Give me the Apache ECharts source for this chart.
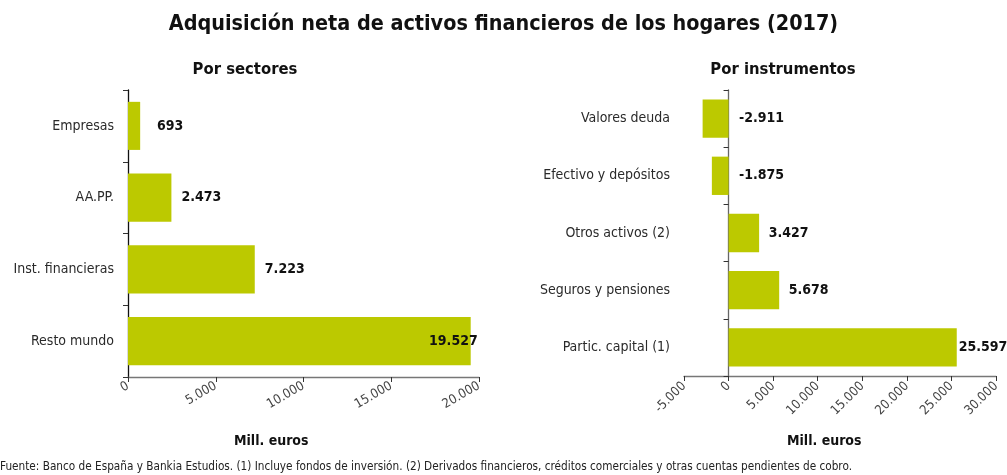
<!DOCTYPE html>
<html>
<head>
<meta charset="utf-8">
<script src="https://cdn.jsdelivr.net/npm/echarts@6/dist/echarts.min.js"></script>
<style>
html,body{margin:0;padding:0;background:#fff;}
#c{width:1007px;height:475px;}
</style>
</head>
<body>
<div id="c"></div>
<script>
const titleText = 'Adquisición neta de activos financieros de los hogares (2017)';
const leftSubtitle = 'Por sectores';
const rightSubtitle = 'Por instrumentos';
const axisName = 'Mill. euros';
const footerText = 'Fuente: Banco de España y Bankia Estudios. (1) Incluye fondos de inversión. (2) Derivados financieros, créditos comerciales y otras cuentas pendientes de cobro.';

const sectorCategories = ['Empresas', 'AA.PP.', 'Inst. financieras', 'Resto mundo'];
const sectorValues = [693, 2473, 7223, 19527];
const sectorAxis = { min: 0, max: 20000, interval: 5000 };

const instrCategories = ['Valores deuda', 'Efectivo y depósitos', 'Otros activos (2)', 'Seguros y pensiones', 'Partic. capital (1)'];
const instrValues = [-2911, -1875, 3427, 5678, 25597];
const instrAxis = { min: -5000, max: 30000, interval: 5000 };

const FONT = 'DejaVu Sans Condensed';
const BAR = '#BCC900';
const LABEL_SIZE = 14;

function fmt(v) {
  const s = Math.abs(Math.round(v)).toString().replace(/\B(?=(\d{3})+(?!\d))/g, '.');
  return (v < 0 ? '-' : '') + s;
}

const ctx = document.createElement('canvas').getContext('2d');
ctx.font = 'bold ' + LABEL_SIZE + 'px "' + FONT + '"';
function halfW(v) { return ctx.measureText(fmt(v)).width / 2; }

const labelBase = { show: true, position: 'right', fontFamily: FONT, fontWeight: 'bold', fontSize: LABEL_SIZE, color: '#111', formatter: p => fmt(p.value) };

const chart = echarts.init(document.getElementById('c'), null, { renderer: 'canvas' });

const catAxisCommon = (data, lineColor, idx) => ({
  type: 'category', gridIndex: idx, data: data, inverse: true,
  axisLine: { onZero: true, lineStyle: { color: lineColor, width: 1.3 } },
  axisTick: { show: true, length: 5, lineStyle: { color: '#333' } },
  axisLabel: { fontFamily: FONT, fontSize: 14, color: '#2a2a2a', margin: 14 }
});

const valAxisCommon = (cfg, rotate, idx) => ({
  type: 'value', gridIndex: idx, min: cfg.min, max: cfg.max, interval: cfg.interval,
  splitLine: { show: false },
  axisLine: { show: true, onZero: false, lineStyle: { color: '#777', width: 1.3 } },
  axisTick: { show: true, length: 5, lineStyle: { color: '#333' } },
  axisLabel: { fontFamily: FONT, fontSize: 13, color: '#444', rotate: rotate, margin: 8, formatter: v => fmt(v) }
});

// Excel-like "outside end" labels: text centred ~30px beyond the bar end (34px for negatives, from zero)
const sectorData = sectorValues.map(v => v > sectorAxis.max * 0.85
  ? { value: v, label: { position: 'insideRight', offset: [12, 0] } }
  : { value: v, label: { distance: Math.max(2, 30 - halfW(v)) } });
const instrData = instrValues.map(v => v > instrAxis.max * 0.8
  ? { value: v, label: { distance: 2 } }
  : { value: v, label: { distance: Math.max(2, (v < 0 ? 33 : 29.5) - halfW(v)) } });

chart.setOption({
  animation: false,
  backgroundColor: '#fff',
  title: [
    { text: titleText, left: 'center', top: 9, textStyle: { fontFamily: FONT, fontWeight: 'bold', fontSize: 21.4, color: '#111' } },
    { text: leftSubtitle, left: 240, top: 56, textAlign: 'center', textStyle: { fontFamily: FONT, fontWeight: 'bold', fontSize: 16.5, color: '#111' } },
    { text: rightSubtitle, left: 778, top: 56, textAlign: 'center', textStyle: { fontFamily: FONT, fontWeight: 'bold', fontSize: 16.5, color: '#111' } }
  ],
  graphic: [
    { type: 'text', left: 269 - 35, top: 434, style: { text: axisName, fontFamily: FONT, fontWeight: 'bold', fontSize: 14, fill: '#111' } },
    { type: 'text', left: 822 - 35, top: 434, style: { text: axisName, fontFamily: FONT, fontWeight: 'bold', fontSize: 14, fill: '#111' } },
    { type: 'text', left: 0, top: 461, style: { text: footerText, fontFamily: FONT, fontSize: 11.7, fill: '#222' } }
  ],
  grid: [
    { left: 128, right: 528, top: 90, bottom: 98 },
    { left: 684, right: 11, top: 90, bottom: 99 }
  ],
  xAxis: [valAxisCommon(sectorAxis, 30, 0), valAxisCommon(instrAxis, 45, 1)],
  yAxis: [catAxisCommon(sectorCategories, '#111', 0), catAxisCommon(instrCategories, '#666', 1)],
  series: [
    { type: 'bar', xAxisIndex: 0, yAxisIndex: 0, data: sectorData, barCategoryGap: '33%',
      itemStyle: { color: BAR }, label: labelBase },
    { type: 'bar', xAxisIndex: 1, yAxisIndex: 1, data: instrData, barCategoryGap: '33%',
      itemStyle: { color: BAR }, label: labelBase }
  ]
});
</script>
</body>
</html>
